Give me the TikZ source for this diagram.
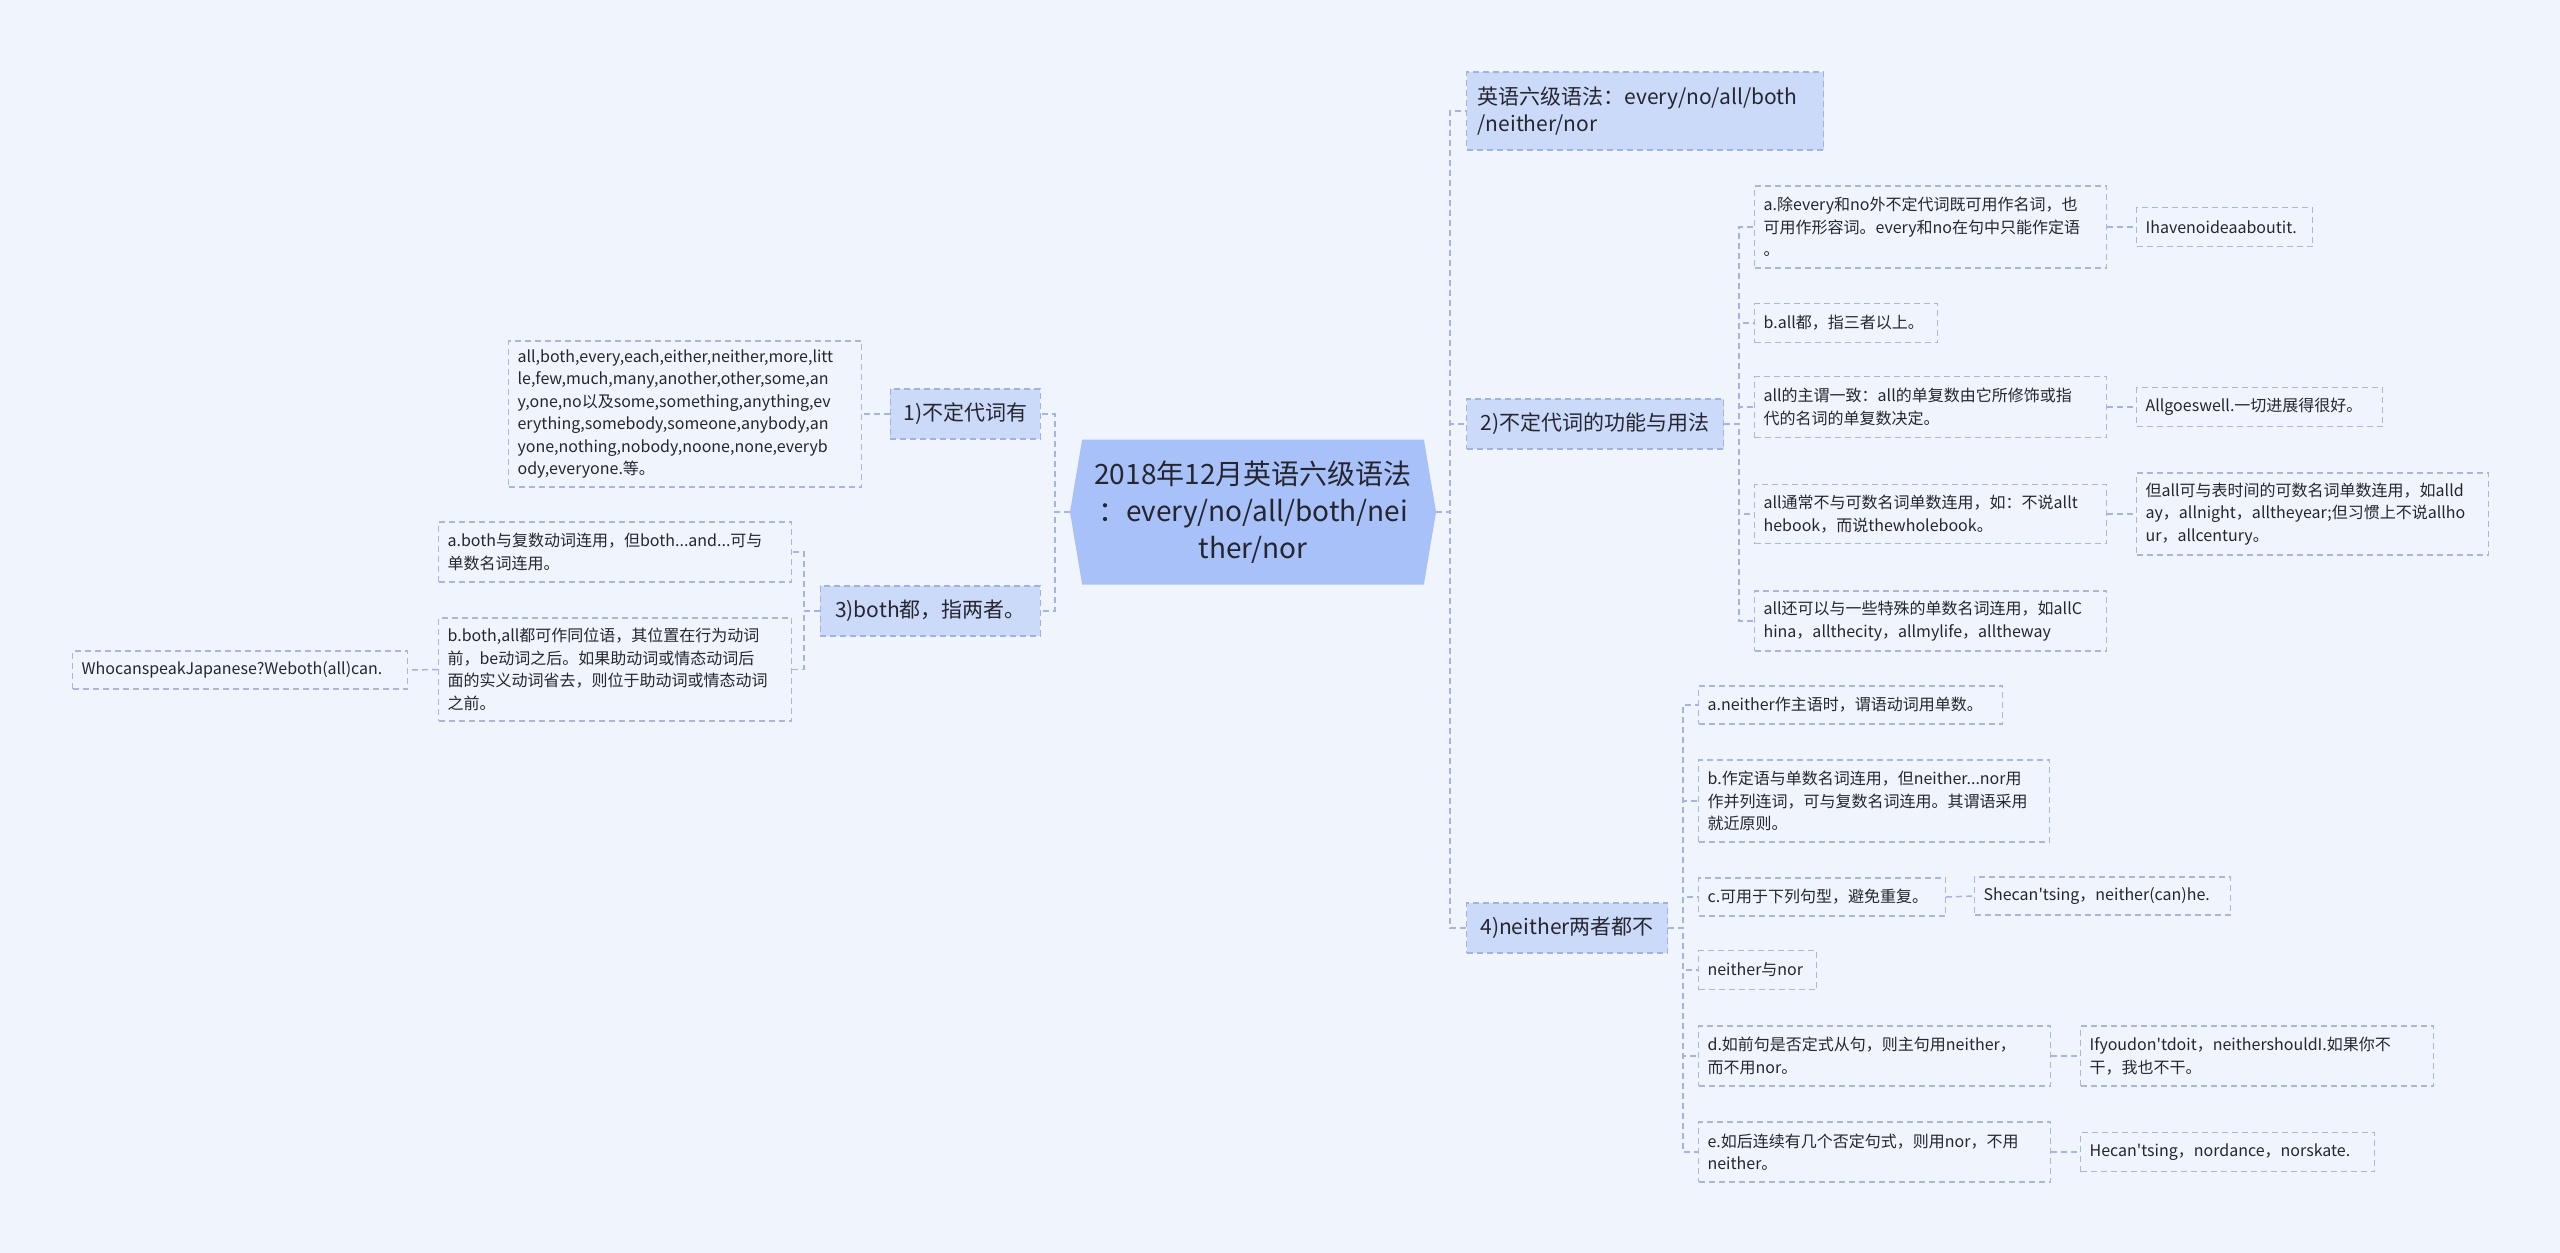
\documentclass[tikz,border=0pt]{standalone}
\usepackage{fontspec}
\setmainfont{Noto Sans CJK SC}[Ligatures=TeXOff]
\usepackage{tikz}
\usetikzlibrary{shapes.symbols}

\definecolor{bgcol}{RGB}{240,244,252}
\definecolor{rootfill}{RGB}{168,193,248}
\definecolor{topicfill}{RGB}{204,218,250}
\definecolor{topicline}{RGB}{160,178,222}
\definecolor{leafline}{RGB}{170,184,216}
\definecolor{linkcol}{RGB}{163,181,224}
\definecolor{txtcol}{RGB}{38,38,48}

\tikzset{
  rootnode/.style={shape=signal, signal to=west and east, signal pointer angle=161,
    fill=rootfill, align=center, font=\fontsize{28}{37}\selectfont,
    minimum width=366, minimum height=145, inner sep=0},
  topic/.style={draw=topicline, dash pattern=on 6pt off 4pt, line width=1.2,
    fill=topicfill, font=\fontsize{21}{27}\selectfont, minimum height=50,
    inner xsep=11, inner ysep=0},
  leaf/.style={draw=leafline, dash pattern=on 6pt off 4pt, line width=1.2,
    font=\fontsize{16}{22.5}\selectfont, align=left, anchor=west,
    inner xsep=9, inner ysep=0},
  link/.style={draw=linkcol, dash pattern=on 6pt off 4pt, line width=1.5},
}

\begin{document}
\begin{tikzpicture}[x=1pt, y=-1pt, every node/.style={text=txtcol}]
    \path[use as bounding box, fill=bgcol] (0,0) rectangle (2560,1253);

    % centre
    \node[rootnode] (root) at (1253,512) {2018年12月英语六级语法\\：every/no/all/both/nei\\ther/nor};

    % left side
    \node[topic, anchor=east, minimum width=150] (n1) at (1041,414) {1)不定代词有};
    \node[topic, anchor=east, minimum width=220] (n3) at (1041,611) {3)both都，指两者。};

    \node[leaf, text width=335, minimum height=146] (list) at (508,414)
      {all,both,every,each,either,neither,more,litt\\le,few,much,many,another,other,some,an\\y,one,no以及some,something,anything,ev\\erything,somebody,someone,anybody,an\\yone,nothing,nobody,noone,none,everyb\\ody,everyone.等。};
    \node[leaf, text width=335, minimum height=60] (aboth) at (438,552)
      {a.both与复数动词连用，但both...and...可与\\单数名词连用。};
    \node[leaf, text width=335, minimum height=103] (bboth) at (438,669.5)
      {b.both,all都可作同位语，其位置在行为动词\\前，be动词之后。如果助动词或情态动词后\\面的实义动词省去，则位于助动词或情态动词\\之前。};
    \node[leaf, text width=317, minimum height=38] (who) at (72,670)
      {WhocanspeakJapanese?Weboth(all)can.};

    % right side
    \node[topic, anchor=west, text width=335, align=left, minimum height=78] (eng) at (1466,111)
      {英语六级语法：every/no/all/both\\/neither/nor};
    \node[topic, anchor=west, minimum width=257] (n2) at (1466,424) {2)不定代词的功能与用法};
    \node[topic, anchor=west, minimum width=201] (n4) at (1466,928) {4)neither两者都不};

    \node[leaf, text width=334, minimum height=82] (aevery) at (1754,227)
      {a.除every和no外不定代词既可用作名词，也\\可用作形容词。every和no在句中只能作定语\\。};
    \node[leaf, text width=158, minimum height=39] (ihave) at (2136,227) {Ihavenoideaaboutit.};
    \node[leaf, text width=165, minimum height=39] (ball) at (1754,323) {b.all都，指三者以上。};
    \node[leaf, text width=334, minimum height=61] (allsubj) at (1754,407)
      {all的主谓一致：all的单复数由它所修饰或指\\代的名词的单复数决定。};
    \node[leaf, text width=228, minimum height=39] (allgoes) at (2136,407) {Allgoeswell.一切进展得很好。};
    \node[leaf, text width=334, minimum height=59] (allnot) at (1754,514)
      {all通常不与可数名词单数连用，如：不说allt\\hebook，而说thewholebook。};
    \node[leaf, text width=334, minimum height=82] (allbut) at (2136,514)
      {但all可与表时间的可数名词单数连用，如alld\\ay，allnight，alltheyear;但习惯上不说allho\\ur，allcentury。};
    \node[leaf, text width=334, minimum height=60] (allalso) at (1754,621)
      {all还可以与一些特殊的单数名词连用，如allC\\hina，allthecity，allmylife，alltheway};

    \node[leaf, text width=286, minimum height=38] (aneither) at (1698,705) {a.neither作主语时，谓语动词用单数。};
    \node[leaf, text width=333, minimum height=82] (bneither) at (1698,801)
      {b.作定语与单数名词连用，但neither...nor用\\作并列连词，可与复数名词连用。其谓语采用\\就近原则。};
    \node[leaf, text width=229, minimum height=38] (cneither) at (1698,897) {c.可用于下列句型，避免重复。};
    \node[leaf, text width=238, minimum height=38] (she) at (1974,896) {Shecan'tsing，neither(can)he.};
    \node[leaf, text width=100, minimum height=39] (nein) at (1698,970) {neither与nor};
    \node[leaf, text width=334, minimum height=60] (dneither) at (1698,1056)
      {d.如前句是否定式从句，则主句用neither，\\而不用nor。};
    \node[leaf, text width=335, minimum height=60] (ifyou) at (2080,1056)
      {Ifyoudon'tdoit，neithershouldI.如果你不\\干，我也不干。};
    \node[leaf, text width=334, minimum height=60] (eneither) at (1698,1152)
      {e.如后连续有几个否定句式，则用nor，不用\\neither。};
    \node[leaf, text width=276, minimum height=39] (hecant) at (2080,1152) {Hecan'tsing，nordance，norskate.};

    % links
    \foreach \t in {n1,n3}
      \draw[link] (root.west) -- ++(-15,0) |- (\t.east);
    \foreach \t in {eng,n2,n4}
      \draw[link] (root.east) -- ++(14,0) |- (\t.west);
    \draw[link] (n1.west) -- (list.east);
    \foreach \t in {aboth,bboth}
      \draw[link] (n3.west) -- ++(-16,0) |- (\t.east);
    \draw[link] (bboth.west) -- (who.east);
    \foreach \t in {aevery,ball,allsubj,allnot,allalso}
      \draw[link] (n2.east) -- ++(15,0) |- (\t.west);
    \foreach \t in {aneither,bneither,cneither,nein,dneither,eneither}
      \draw[link] (n4.east) -- ++(15,0) |- (\t.west);
    \draw[link] (aevery.east) -- (ihave.west);
    \draw[link] (allsubj.east) -- (allgoes.west);
    \draw[link] (allnot.east) -- (allbut.west);
    \draw[link] (cneither.east) -- (she.west);
    \draw[link] (dneither.east) -- (ifyou.west);
    \draw[link] (eneither.east) -- (hecant.west);
\end{tikzpicture}
\end{document}
